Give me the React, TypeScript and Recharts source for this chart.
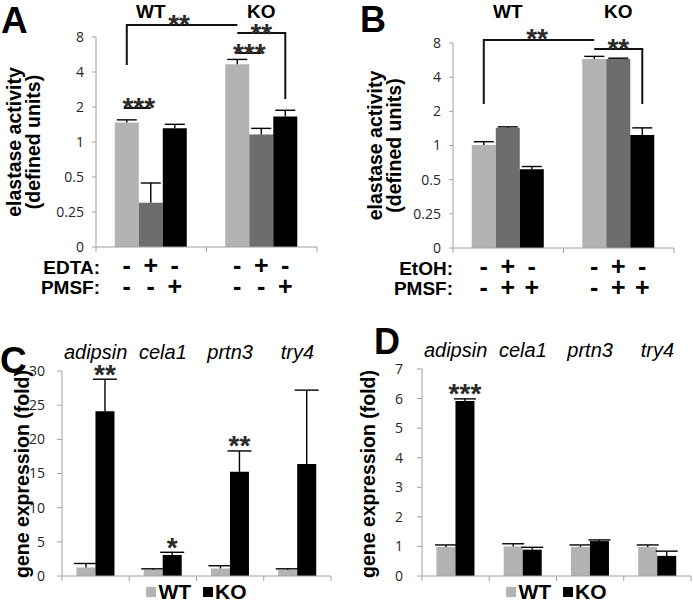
import React from 'react';
import { BarChart, Bar, XAxis, YAxis, ErrorBar, Legend, LabelList } from 'recharts';

// ---------- data ----------
const groups = ['WT', 'KO'];

const aControl = [1.47, 4.67];
const aControlErr = [0.08, 0.46];
const aEdta = [0.3, 1.16];
const aEdtaErr = [0.144, 0.15];
const aPmsf = [1.31, 1.66];
const aPmsfErr = [0.11, 0.215];
const aRowNames = ['EDTA:', 'PMSF:'];
const aSigns = [['-', '+', '-'], ['-', '-', '+']];

const bControl = [1.01, 5.77];
const bControlErr = [0.07, 0.33];
const bEtohPmsf = [1.43, 5.77];
const bEtohPmsfErr = [0.03, 0.11];
const bPmsf = [0.618, 1.24];
const bPmsfErr = [0.035, 0.19];
const bRowNames = ['EtOH:', 'PMSF:'];
const bSigns = [['-', '+', '-'], ['-', '+', '+']];

const logTicks = [0.125, 0.25, 0.5, 1, 2, 4, 8];

const genes = ['adipsin', 'cela1', 'prtn3', 'try4'];
const seriesNames = ['WT', 'KO'];
const cWT = [1.25, 0.9, 1.1, 0.9];
const cWTErr = [0.58, 0.15, 0.4, 0.15];
const cKO = [24.1, 3.07, 15.25, 16.4];
const cKOErr = [4.7, 0.4, 3.05, 10.8];
const cSig = ['**', '*', '**', ''];
const cTicks = [0, 5, 10, 15, 20, 25, 30];

const dWT = [0.98, 1.0, 0.98, 0.98];
const dWTErr = [0.07, 0.09, 0.07, 0.07];
const dKO = [5.92, 0.89, 1.18, 0.68];
const dKOErr = [0.07, 0.08, 0.04, 0.16];
const dSig = ['***', '', '', ''];
const dTicks = [0, 1, 2, 3, 4, 5, 6, 7];

// ---------- tables ----------
const aData = groups.map((g, i) => ({
  group: g,
  ctrl: aControl[i], ctrlErr: [0, aControlErr[i]],
  s1: aEdta[i], s1Err: [0, aEdtaErr[i]],
  s2: aPmsf[i], s2Err: [0, aPmsfErr[i]],
}));
const bData = groups.map((g, i) => ({
  group: g,
  ctrl: bControl[i], ctrlErr: [0, bControlErr[i]],
  s1: bEtohPmsf[i], s1Err: [0, bEtohPmsfErr[i]],
  s2: bPmsf[i], s2Err: [0, bPmsfErr[i]],
}));
const cData = genes.map((g, i) => ({ gene: g, wt: cWT[i], wtErr: [0, cWTErr[i]], ko: cKO[i], koErr: [0, cKOErr[i]] }));
const dData = genes.map((g, i) => ({ gene: g, wt: dWT[i], wtErr: [0, dWTErr[i]], ko: dKO[i], koErr: [0, dKOErr[i]] }));

// ---------- styles ----------
const FONT_BOLD = '"Liberation Sans", Arial, sans-serif';
const FONT_TICK = '"Open Sans", sans-serif';
const AXIS = '#a0a0a0';
const LIGHT = '#b3b3b3';
const DARK = '#6d6d6d';
const BLACK = '#000000';
const STAR = '#2a2a2a';

const AB_GAP = 0.17;
const CD_GAP = 0.215;

const fmtLog = (v: number) => (v === 0.125 ? '0' : String(v));

function barCenter(plotLeft: number, plotWidth: number, nGroups: number, nBars: number, gap: number, g: number, b: number) {
  const band = plotWidth / nGroups;
  const off = band * gap;
  const bw = Math.floor((band - 2 * off) / nBars);
  return plotLeft + band * g + off + bw * (b + 0.5);
}

const GroupTick = (props: any) => {
  const { x, y, index, payload, band, gap, nBars, signs, rowNames, nameDx, topDy } = props;
  const cx = Number(x);
  const cy = Number(y);
  const start = cx - band / 2;
  const off = band * gap;
  const bw = Math.floor((band - 2 * off) / nBars);
  return (
    <g>
      {index === 0 && <line x1={start} x2={start} y1={cy} y2={cy + 5} stroke={AXIS} />}
      <line x1={start + band} x2={start + band} y1={cy} y2={cy + 5} stroke={AXIS} />
      {topDy && (
        <text x={start + off + (bw * nBars) / 2} y={cy - topDy} textAnchor="middle"
          fontFamily={FONT_BOLD} fontWeight="bold" fontSize={19} fill="#000">{payload.value}</text>
      )}
      {signs &&
        signs.map((row: string[], r: number) =>
          row.map((s: string, i: number) => (
            <text key={`${r}-${i}`} x={start + off + bw * (i + 0.5)} y={cy + 27 + r * 21}
              textAnchor="middle" fontFamily={FONT_BOLD} fontWeight="bold" fontSize={25} fill="#000">{s}</text>
          ))
        )}
      {signs && index === 0 &&
        rowNames.map((nm: string, r: number) => (
          <text key={nm} x={start + nameDx} y={cy + 27 + r * 19.5} textAnchor="end"
            fontFamily={FONT_BOLD} fontWeight="bold" fontSize={19} fill="#000">{nm}</text>
        ))}
    </g>
  );
};

const makeStarLabel = (sig: string[], err: number[]) => (props: any) => {
  const { x, y, width, height, value, index } = props;
  const s = sig[index];
  if (!s) return null;
  const ppu = Number(height) / Number(value);
  const top = Number(y) - err[index] * ppu;
  return (
    <text x={Number(x) + Number(width) / 2} y={top - 11 + 15.5} textAnchor="middle"
      fontFamily={FONT_BOLD} fontWeight="bold" fontSize={28} fill={STAR}>{s}</text>
  );
};

const renderLegend = (props: any) => {
  const payload = [...(props.payload || [])].sort(
    (p: any, q: any) => seriesNames.indexOf(p.value) - seriesNames.indexOf(q.value)
  );
  return (
    <div style={{ display: 'flex', justifyContent: 'center', alignItems: 'center', height: 22,
      fontFamily: FONT_BOLD, fontWeight: 'bold', fontSize: 21, color: '#000', lineHeight: '22px' }}>
      {payload.map((p: any, i: number) => (
        <span key={i} style={{ display: 'flex', alignItems: 'center', marginRight: i === 0 ? 12 : 0 }}>
          <span style={{ width: 10, height: 10, background: p.color, marginRight: 2, display: 'inline-block' }} />
          {p.value}
        </span>
      ))}
    </div>
  );
};

const Stars = ({ cx, cy, text }: { cx: number; cy: number; text: string }) => (
  <text x={cx} y={cy + 15.5} textAnchor="middle" fontFamily={FONT_BOLD} fontWeight="bold" fontSize={28} fill={STAR}>{text}</text>
);

function PanelAB({ data, signs, rowNames, yWidth, topH, topDy, rightMargin, bottomH, nameDx, tickMargin }: any) {
  return (
    <BarChart width={yWidth === 96 ? 346 : 347} height={300} data={data}
      margin={{ top: topH, right: rightMargin, bottom: 0, left: 0 }}
      barCategoryGap={`${AB_GAP * 100}%`} barGap={0}>
      <XAxis dataKey="group" height={bottomH} tickLine={false} tickSize={0} tickMargin={0} interval={0}
        axisLine={{ stroke: AXIS }}
        tick={<GroupTick band={110.5} gap={AB_GAP} nBars={3} signs={signs} rowNames={rowNames} nameDx={nameDx} topDy={topDy} />} />
      <YAxis type="number" scale="log" domain={[0.125, 8]} ticks={logTicks} allowDataOverflow interval={0}
        tickFormatter={fmtLog} width={yWidth} tickSize={4} tickMargin={tickMargin}
        axisLine={{ stroke: AXIS }} tickLine={{ stroke: AXIS }}
        tick={{ fontFamily: FONT_TICK, fontSize: 14, fill: '#262626' }} />
      <Bar dataKey="ctrl" fill={LIGHT} isAnimationActive={false}>
        <ErrorBar dataKey="ctrlErr" width={10} stroke="#000" strokeWidth={1.4} />
      </Bar>
      <Bar dataKey="s1" fill={DARK} isAnimationActive={false}>
        <ErrorBar dataKey="s1Err" width={10} stroke="#000" strokeWidth={1.4} />
      </Bar>
      <Bar dataKey="s2" fill={BLACK} isAnimationActive={false}>
        <ErrorBar dataKey="s2Err" width={10} stroke="#000" strokeWidth={1.4} />
      </Bar>
    </BarChart>
  );
}

function PanelCD({ data, ticks, max, sig, err, yWidth, rightMargin, topH, tickMargin, capW }: any) {
  return (
    <BarChart width={yWidth === 62 ? 346 : 347} height={305} data={data}
      margin={{ top: 0, right: rightMargin, bottom: 2, left: 0 }}
      barCategoryGap={`${CD_GAP * 100}%`} barGap={0}>
      <XAxis xAxisId="top" orientation="top" dataKey="gene" height={topH} axisLine={false} tickLine={false}
        tickSize={0} tickMargin={12.5} interval={0}
        tick={{ fontFamily: FONT_BOLD, fontStyle: 'italic', fontSize: 20, fill: '#000' }} />
      <XAxis dataKey="gene" height={5} tickLine={false} tickSize={0} tickMargin={0} interval={0}
        axisLine={{ stroke: AXIS }}
        tick={<GroupTick band={269 / 4} gap={CD_GAP} nBars={2} />} />
      <YAxis type="number" domain={[0, max]} ticks={ticks} interval={0} width={yWidth}
        tickSize={5} tickMargin={tickMargin} axisLine={{ stroke: AXIS }} tickLine={{ stroke: AXIS }}
        tick={{ fontFamily: FONT_TICK, fontSize: 14, fill: '#262626' }} />
      <Legend verticalAlign="bottom" align="center" height={22}
        wrapperStyle={{ left: yWidth, width: 269, bottom: 2 }} content={renderLegend} />
      <Bar dataKey="wt" name={seriesNames[0]} fill={LIGHT} isAnimationActive={false}>
        <ErrorBar dataKey="wtErr" width={capW} stroke="#000" strokeWidth={1.4} />
      </Bar>
      <Bar dataKey="ko" name={seriesNames[1]} fill={BLACK} isAnimationActive={false}>
        <ErrorBar dataKey="koErr" width={capW} stroke="#000" strokeWidth={1.4} />
        <LabelList content={makeStarLabel(sig, err)} />
      </Bar>
    </BarChart>
  );
}

export default function App() {
  // bar centers for significance brackets (same layout as the charts)
  const aX = (g: number, b: number) => barCenter(96, 221, 2, 3, AB_GAP, g, b);
  const bX = (g: number, b: number) => barCenter(453, 221, 2, 3, AB_GAP, g, b);
  const lineProps = { stroke: '#111', strokeWidth: 2, fill: 'none' };
  return (
    <div style={{ position: 'absolute', left: 0, top: 0, width: 693, height: 605, background: '#fff', overflow: 'hidden' }}>
      <style>{'.recharts-surface{overflow:visible} .recharts-errorBar line:nth-of-type(3){display:none}'}</style>
      <div style={{ position: 'absolute', left: 0, top: 0 }}>
        <PanelAB data={aData} signs={aSigns} rowNames={aRowNames} yWidth={96} topH={37} topDy={229}
          rightMargin={29} bottomH={53} nameDx={4} tickMargin={8} />
      </div>
      <div style={{ position: 'absolute', left: 346, top: 0 }}>
        <PanelAB data={bData} signs={bSigns} rowNames={bRowNames} yWidth={107} topH={43} topDy={230}
          rightMargin={19} bottomH={52} nameDx={0} tickMargin={8} />
      </div>
      <div style={{ position: 'absolute', left: 0, top: 300 }}>
        <PanelCD data={cData} ticks={cTicks} max={30} sig={cSig} err={cKOErr} yWidth={62} rightMargin={15}
          topH={71} tickMargin={12} capW={12} />
      </div>
      <div style={{ position: 'absolute', left: 346, top: 300 }}>
        <PanelCD data={dData} ticks={dTicks} max={7} sig={dSig} err={dKOErr} yWidth={76} rightMargin={2}
          topH={69} tickMargin={14} capW={11} />
      </div>
      <svg width={693} height={605} style={{ position: 'absolute', left: 0, top: 0, pointerEvents: 'none' }}>
        {/* panel letters */}
        <text x={1} y={33} fontFamily={FONT_BOLD} fontWeight="bold" fontSize={37} fill="#000">A</text>
        <text x={360} y={32} fontFamily={FONT_BOLD} fontWeight="bold" fontSize={36} fill="#000">B</text>
        <text x={0} y={373} fontFamily={FONT_BOLD} fontWeight="bold" fontSize={37} fill="#000">C</text>
        <text x={374} y={354} fontFamily={FONT_BOLD} fontWeight="bold" fontSize={36} fill="#000">D</text>

        {/* y axis titles */}
        <g fontFamily={FONT_BOLD} fontWeight="bold" fontSize={19.5} fill="#000" textAnchor="middle">
          <text transform="translate(21,142) rotate(-90)">elastase activity</text>
          <text transform="translate(40,142) rotate(-90)">(defined units)</text>
          <text transform="translate(382,145.5) rotate(-90)">elastase activity</text>
          <text transform="translate(401,145.5) rotate(-90)">(defined units)</text>
          <text transform="translate(29,474) rotate(-90)">gene expression (fold)</text>
          <text transform="translate(375,474) rotate(-90)">gene expression (fold)</text>
        </g>

        {/* panel A significance */}
        <polyline points={`${aX(0, 0)},65 ${aX(0, 0)},25 ${aX(1, 0)},25`} {...lineProps} />
        <Stars cx={(aX(0, 0) + aX(1, 0)) / 2 - 3} cy={18} text="**" />
        <polyline points={`${aX(1, 0)},33 ${aX(1, 2)},33 ${aX(1, 2)},99`} {...lineProps} />
        <Stars cx={(aX(1, 0) + aX(1, 2)) / 2} cy={27.5} text="**" />
        <line x1={aX(1, 0)} x2={aX(1, 1)} y1={53} y2={53} {...lineProps} />
        <Stars cx={(aX(1, 0) + aX(1, 1)) / 2} cy={47} text="***" />
        <line x1={aX(0, 0) - 3} x2={aX(0, 1)} y1={108} y2={108} {...lineProps} />
        <Stars cx={(aX(0, 0) + aX(0, 1)) / 2} cy={101} text="***" />

        {/* panel B significance */}
        <polyline points={`${bX(0, 0)},104 ${bX(0, 0)},40 ${bX(1, 0)},40`} {...lineProps} />
        <Stars cx={(bX(0, 0) + bX(1, 0)) / 2 - 2} cy={32} text="**" />
        <polyline points={`${bX(1, 0)},49 ${bX(1, 2)},49 ${bX(1, 2)},104`} {...lineProps} />
        <Stars cx={(bX(1, 0) + bX(1, 2)) / 2} cy={42.5} text="**" />
      </svg>
    </div>
  );
}
